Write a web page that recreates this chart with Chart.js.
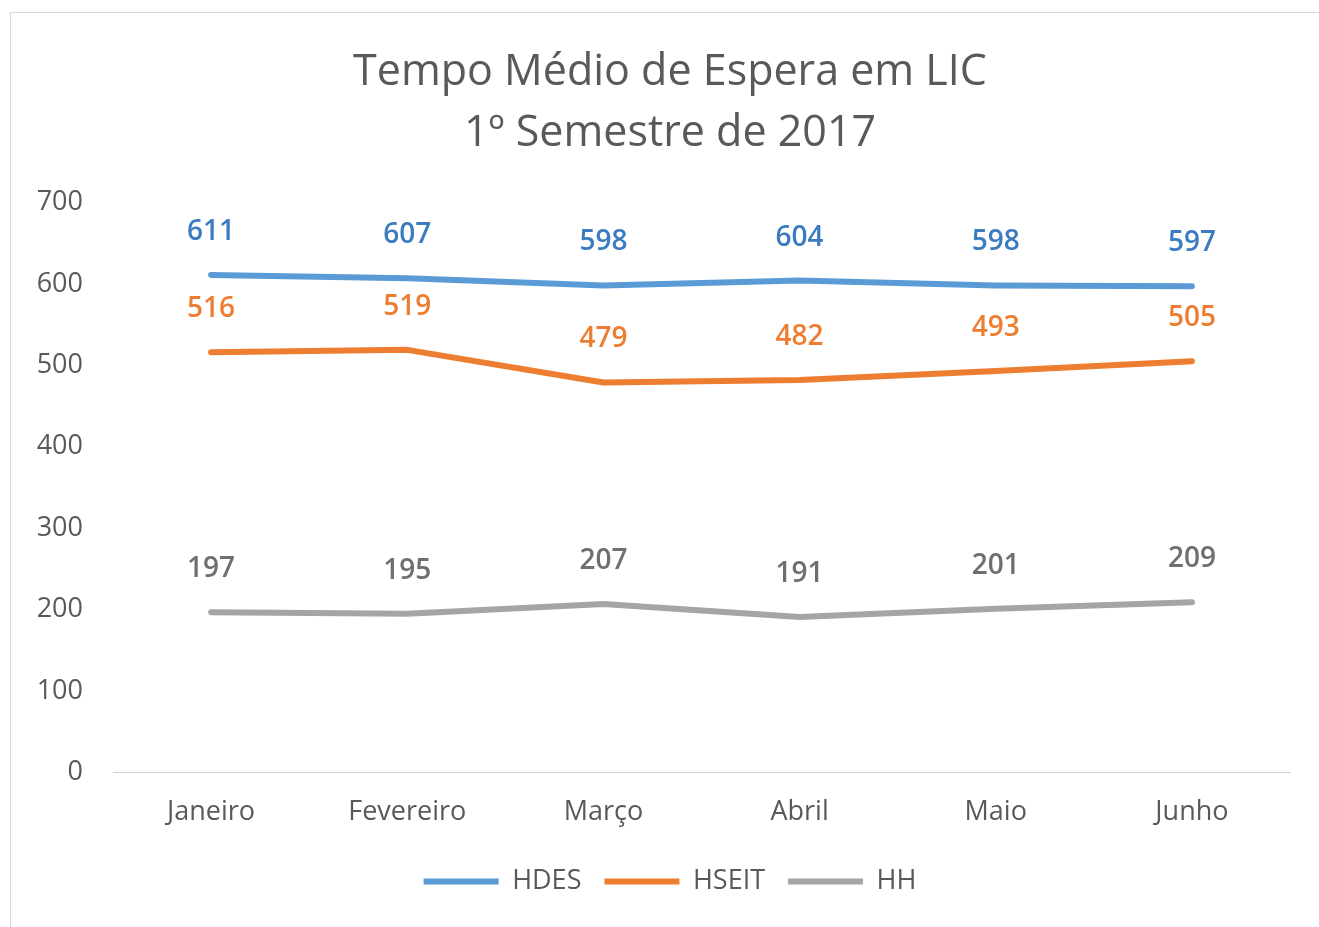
<!DOCTYPE html>
<html>
<head>
<meta charset="utf-8">
<script src="https://cdn.jsdelivr.net/npm/chart.js@4"></script>
<style>
  html, body { margin: 0; padding: 0; background: #fff; }
  #wrap { position: relative; width: 1319px; height: 927px; }
  #frame { position: absolute; left: 10px; top: 12px; width: 1320px; height: 930px; border: 1px solid #d9d9d9; box-sizing: border-box; }
  canvas { position: absolute; left: 0; top: 0; }
</style>
</head>
<body>
<div id="wrap">
  <div id="frame"></div>
  <canvas id="grafico" width="1319" height="927"></canvas>
</div>
<script>
// Dados
const meses = ["Janeiro", "Fevereiro", "Março", "Abril", "Maio", "Junho"];
const hdes = [611, 607, 598, 604, 598, 597];
const hseit = [516, 519, 479, 482, 493, 505];
const hh = [197, 195, 207, 191, 201, 209];
const titulo = ["Tempo Médio de Espera em LIC", "1º Semestre de 2017"];

const fonte = "'Open Sans', 'Noto Sans', sans-serif";
const cinza = '#595959';

// plugin simples para os rótulos de dados (sem datalabels)
const rotulos = {
    id: 'rotulos',
    afterDatasetsDraw(chart) {
        const ctx = chart.ctx;
        ctx.save();
        ctx.font = "600 28px " + fonte;
        ctx.textAlign = 'center';
        ctx.textBaseline = 'middle';
        chart.data.datasets.forEach((ds, i) => {
            const meta = chart.getDatasetMeta(i);
            ctx.fillStyle = ds.corRotulo;
            meta.data.forEach((pt, j) => {
                ctx.fillText(ds.data[j], pt.x, pt.y - 43);
            });
        });
        ctx.restore();
    }
};

const ctx = document.getElementById('grafico');
new Chart(ctx, {
    type: 'line',
    data: {
        labels: meses,
        datasets: [
            { label: 'HDES', data: hdes, borderColor: '#5b9bd5', backgroundColor: '#5b9bd5', corRotulo: '#3b7bc0' },
            { label: 'HSEIT', data: hseit, borderColor: '#ed7d31', backgroundColor: '#ed7d31', corRotulo: '#ed7d31' },
            { label: 'HH', data: hh, borderColor: '#a5a5a5', backgroundColor: '#a5a5a5', corRotulo: '#6f6f6f' }
        ].map(d => Object.assign(d, {
            borderWidth: 6, pointRadius: 0, tension: 0, borderCapStyle: 'round', borderJoinStyle: 'round'
        }))
    },
    options: {
        responsive: false,
        animation: false,
        layout: { padding: { left: 30, right: 9, top: 0, bottom: 22 } },
        plugins: {
            title: {
                display: true,
                text: titulo,
                color: cinza,
                font: { family: fonte, size: 43, weight: 'normal', lineHeight: 1.4 },
                padding: { top: 43, bottom: 39 }
            },
            legend: {
                position: 'bottom',
                labels: {
                    usePointStyle: true,
                    pointStyle: 'line',
                    pointStyleWidth: 75,
                    color: cinza,
                    font: { family: fonte, size: 27 },
                    padding: 23
                }
            },
            tooltip: { enabled: false }
        },
        scales: {
            x: {
                offset: true,
                grid: { display: false },
                border: { display: true, color: '#d0d0d0', width: 1, dash: [3, 2] },
                ticks: { color: cinza, font: { family: fonte, size: 27 }, padding: 16 }
            },
            y: {
                min: 0,
                max: 700,
                grid: { display: false },
                border: { display: false },
                ticks: { stepSize: 100, color: cinza, font: { family: fonte, size: 27 }, padding: 22 },
                afterFit(scale) { scale.width = 83; }
            },
            // eixo vazio à direita só para deixar a margem
            margemDir: {
                position: 'right',
                min: 0,
                max: 700,
                grid: { display: false },
                border: { display: false },
                ticks: { display: false },
                afterFit(scale) { scale.width = 20; }
            }
        }
    },
    plugins: [rotulos]
});
</script>
</body>
</html>
